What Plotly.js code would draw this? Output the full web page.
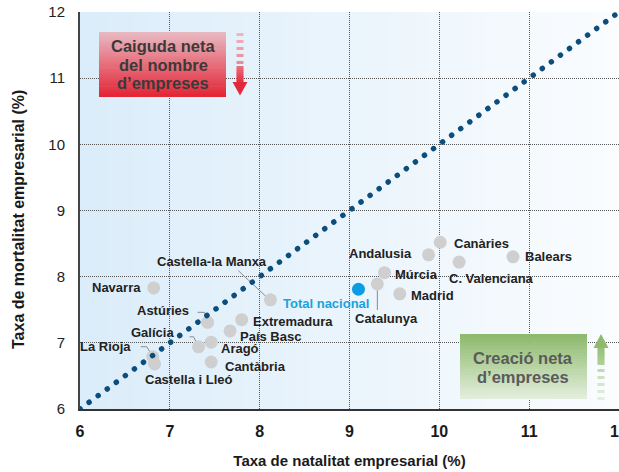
<!DOCTYPE html>
<html>
<head>
<meta charset="utf-8">
<script src="https://cdn.plot.ly/plotly-3.0.1.min.js"></script>
<style>
html,body{margin:0;padding:0;background:#fff;}
#chart{width:619px;height:472px;}
.scatterlayer .trace .js-line{stroke-linecap:round !important;}
</style>
</head>
<body>
<div id="chart"></div>
<script>
// ---- data ----
const regions = ["Navarra","Castella-la Manxa","Astúries","Extremadura","País Basc","Aragó","Galícia","Cantàbria","La Rioja","Castella i Lleó","Catalunya","Múrcia","Madrid","Andalusia","Canàries","C. Valenciana","Balears"];
const natalitat = [6.82,8.12,7.42,7.80,7.67,7.46,7.32,7.46,6.81,6.83,9.31,9.39,9.56,9.88,10.01,10.22,10.82];
const mortalitat = [7.83,7.65,7.31,7.35,7.18,7.01,6.94,6.71,6.79,6.68,7.89,8.06,7.74,8.33,8.52,8.22,8.30];
const totalLabel = ["Total nacional"];
const totalNatalitat = [9.10];
const totalMortalitat = [7.81];
const diagonalX = [6,12];
const diagonalY = [6,12];
const tickVals = [6,7,8,9,10,11,12];
const tickText = ["6","7","8","9","10","11","12"];

// ---- layout geometry ----
const W=619,H=472, ML=80, MR=0, MT=12, MB=63;
const PW=W-ML-MR, PH=H-MT-MB;
const XR=[6,12], YR=[6,12];
const KX=PW/(XR[1]-XR[0]), KY=PH/(YR[1]-YR[0]);
const X0=ML, Y0=MT+PH;
const pxx = p => XR[0]+(p-X0)/KX;   // pixel -> data x
const pyy = p => YR[0]+(Y0-p)/KY;   // pixel -> data y
const xpx = x => X0+(x-XR[0])*KX;
const ypx = y => Y0-(y-YR[0])*KY;

const FONT = "Liberation Sans, Arial, sans-serif";
const shapes = [];
const annotations = [];

function lerp(a,b,t){return Math.round(a+(b-a)*t);}
function mix(c1,c2,t){return `rgb(${lerp(c1[0],c2[0],t)},${lerp(c1[1],c2[1],t)},${lerp(c1[2],c2[2],t)})`;}

// plot background gradient (left light blue -> right near white)
const NB=40;
for(let i=0;i<NB;i++){
  shapes.push({type:'rect',xref:'paper',yref:'paper',x0:i/NB,x1:(i+1)/NB+0.002,y0:0,y1:1,
    fillcolor:mix([219,237,250],[250,252,254],i/(NB-1)),line:{width:0},layer:'below'});
}

// gradient box helper (vertical gradient)
function gradBox(x0,x1,y0,y1,cTop,cBot,n){
  for(let i=0;i<n;i++){
    const a=y0+(y1-y0)*i/n, b=y0+(y1-y0)*(i+1)/n;
    shapes.push({type:'rect',xref:'x',yref:'y',x0:pxx(x0),x1:pxx(x1),y0:pyy(a),y1:pyy(Math.min(y1,b+0.6)),
      fillcolor:mix(cTop,cBot,i/(n-1)),line:{width:0},layer:'between'});
  }
}
function rectPx(x0,x1,y0,y1,color){
  shapes.push({type:'rect',xref:'x',yref:'y',x0:pxx(x0),x1:pxx(x1),y0:pyy(y0),y1:pyy(y1),fillcolor:color,line:{width:0},layer:'between'});
}
function polyPx(pts,color){
  const d='M'+pts.map(p=>pxx(p[0])+','+pyy(p[1])).join('L')+'Z';
  shapes.push({type:'path',xref:'x',yref:'y',path:d,fillcolor:color,line:{width:0},layer:'between'});
}

// red box "Caiguda neta del nombre d'empreses"
gradBox(99,226,32,97,[232,183,192],[228,38,55],24);
// red arrow (down)
[[33,'#f2b5bd'],[40,'#f0aab3'],[47,'#eea0aa'],[54,'#ec96a0'],[61,'#ea8c97']].forEach(d=>rectPx(236.5,243.5,d[0],d[0]+3,d[1]));
gradBox(236.5,243.5,66,82,[233,110,125],[228,50,66],8);
polyPx([[232.5,82],[247.5,82],[240,95.5]],'#e3283a');
['Caiguda neta','del nombre','d’empreses'].forEach((t,i)=>{
  annotations.push({xref:'x',yref:'y',x:pxx(163),y:pyy(46+i*18.7),text:t,showarrow:false,
    font:{family:FONT,size:16.5,color:'#3a3a3a',weight:'bold'},xanchor:'center',yanchor:'middle'});
});

// green box "Creació neta d'empreses"
gradBox(460,587,334,399,[141,186,108],[226,237,219],24);
polyPx([[593.5,348],[608.5,348],[601,334]],'#8fba6e');
gradBox(597.5,604.5,348,365,[150,192,120],[176,208,152],8);
[[369,'#c2dab1'],[376,'#cce0bd'],[383,'#d5e6c9'],[390,'#dcebd3'],[397,'#e3efdc']].forEach(d=>rectPx(597.5,604.5,d[0],d[0]+3,d[1]));
['Creació neta','d’empreses'].forEach((t,i)=>{
  annotations.push({xref:'x',yref:'y',x:pxx(523),y:pyy(358+i*19),text:t,showarrow:false,
    font:{family:FONT,size:16.5,color:'#5a5a5a',weight:'bold'},xanchor:'center',yanchor:'middle'});
});

// label placement (pixel offsets from the point; layout only)
const labelPos = {
  "Navarra":[-11,0,'right'],
  "Castella-la Manxa":[-58,38,'center'],
  "Astúries":[-17,12,'right'],
  "Extremadura":[9,-2,'left'],
  "País Basc":[8,-6,'left'],
  "Aragó":[8,-6,'left'],
  "Galícia":[-23,14,'right'],
  "Cantàbria":[12,-4,'left'],
  "La Rioja":[-20,10,'right'],
  "Castella i Lleó":[34,-15,'center'],
  "Catalunya":[9,-35,'center'],
  "Múrcia":[8,-2,'left'],
  "Madrid":[9,-2,'left'],
  "Andalusia":[-15,1,'right'],
  "Canàries":[12,-1,'left'],
  "C. Valenciana":[-12,-16,'left'],
  "Balears":[10,0,'left']
};
// leader lines, as pixel offsets relative to the point
const leaders = {
  "Castella-la Manxa":[[-32,-29],[-3,-2]],
  "Astúries":[[-10,-10],[-3,-10],[0,-2]],
  "Galícia":[[-9,-10],[-5,-10],[-1,-2]],
  "La Rioja":[[-12,-10],[-6,-10],[0,0]],
  "Catalunya":[[0,3],[0,26]]
};
regions.forEach((r,i)=>{
  const p = labelPos[r];
  annotations.push({x:natalitat[i],y:mortalitat[i],xref:'x',yref:'y',text:r,showarrow:false,
    xshift:p[0],yshift:p[1],xanchor:p[2],yanchor:'middle',
    font:{family:FONT,size:13,color:'#222',weight:'bold'}});
  if(leaders[r]){
    const cx=xpx(natalitat[i]), cy=ypx(mortalitat[i]);
    const d='M'+leaders[r].map(o=>pxx(cx+o[0])+','+pyy(cy+o[1])).join('L');
    shapes.push({type:'path',xref:'x',yref:'y',path:d,line:{color:'#8a8a8a',width:1},layer:'between'});
  }
});
annotations.push({x:totalNatalitat[0],y:totalMortalitat[0],xref:'x',yref:'y',text:totalLabel[0],showarrow:false,
  xshift:13,yshift:-14,xanchor:'right',yanchor:'middle',font:{family:FONT,size:13,color:'#1aa2e0',weight:'bold'}});

// y-axis title (placed as rotated text left of the tick labels)
annotations.push({xref:'paper',yref:'paper',x:(18-ML)/PW,y:(Y0-220)/PH,text:'Taxa de mortalitat empresarial (%)',
  textangle:-90,showarrow:false,xanchor:'center',yanchor:'middle',
  font:{family:FONT,size:16,color:'#1a1a1a',weight:'bold'}});

// dot spacing so that dots land on both ends of the reference line
const diagLen = Math.hypot(PW,PH);
const dotGap = (diagLen/60).toFixed(3);

const traces = [
  {type:'scatter',mode:'markers',x:natalitat,y:mortalitat,text:regions,
    marker:{size:13,color:'#cfcfcf',line:{width:0}},hoverinfo:'text'},
  {type:'scatter',mode:'markers',x:totalNatalitat,y:totalMortalitat,text:totalLabel,
    marker:{size:13,color:'#0a9de3',line:{width:0}},hoverinfo:'text'},
  {type:'scatter',mode:'lines',x:diagonalX,y:diagonalY,
    line:{color:'#0b4e7e',width:5.5,dash:'0.1px,'+dotGap+'px'},hoverinfo:'skip'}
];

const layout = {
  width:W,height:H,
  margin:{l:ML,r:MR,t:MT,b:MB,pad:0},
  paper_bgcolor:'#ffffff',
  plot_bgcolor:'rgba(0,0,0,0)',
  showlegend:false,
  xaxis:{range:XR,tickvals:tickVals,ticktext:tickText,showgrid:true,gridcolor:'#555',griddash:'1px,1px',gridwidth:1,
    zeroline:false,showline:true,linecolor:'#333',linewidth:1.5,ticks:'',ticklabelstandoff:7,ticklabeloverflow:'allow',
    tickfont:{family:FONT,size:16,color:'#1a1a1a',weight:'bold'},
    title:{text:'Taxa de natalitat empresarial (%)',standoff:17,font:{family:FONT,size:15,color:'#1a1a1a',weight:'bold'}}},
  yaxis:{range:YR,tickvals:tickVals,ticktext:tickText,showgrid:true,gridcolor:'#555',griddash:'1px,1px',gridwidth:1,
    zeroline:false,showline:true,linecolor:'#444',linewidth:2,ticks:'',ticklabelstandoff:10,ticklabeloverflow:'allow',
    tickfont:{family:FONT,size:15,color:'#222'}},
  shapes:shapes,
  annotations:annotations
};
Plotly.newPlot('chart',traces,layout,{displayModeBar:false,staticPlot:true});
</script>
</body>
</html>
